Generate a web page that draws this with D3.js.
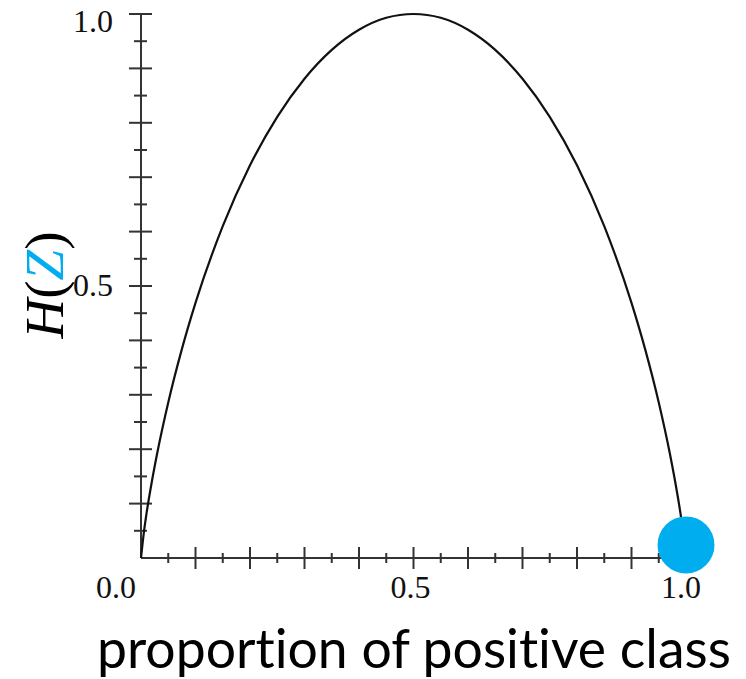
<!DOCTYPE html>
<html lang="en">
<head>
<meta charset="UTF-8" />
<title>entropy</title>
<style>
  html, body { margin: 0; padding: 0; background: #fff; }
  svg { display: block; }
  .tick-label { font-family: "Liberation Serif", "DejaVu Serif", serif; font-size: 32px; fill: #111; }
  .y-title { font-family: "Liberation Serif", serif; font-size: 55px; }
  .x-title { font-family: Lato, "Open Sans", sans-serif; font-size: 53.5px; fill: #000; font-variant-ligatures: none; }
</style>
</head>
<body>
<div id="chart"></div>
<script src="https://d3js.org/d3.v7.min.js"></script>
<script>
  // entropy curve
  const pValues = [0, 0.005, 0.01, 0.02, 0.03, 0.05, 0.075, 0.1, 0.15, 0.2, 0.25, 0.3, 0.35, 0.4, 0.45, 0.5,
                   0.55, 0.6, 0.65, 0.7, 0.75, 0.8, 0.85, 0.9, 0.925, 0.95, 0.97, 0.98, 0.99, 0.995, 1];
  const hValues = [0, 0.045, 0.081, 0.141, 0.194, 0.286, 0.384, 0.469, 0.610, 0.722, 0.811, 0.881, 0.934, 0.971, 0.993, 1.0,
                   0.993, 0.971, 0.934, 0.881, 0.811, 0.722, 0.610, 0.469, 0.384, 0.286, 0.194, 0.141, 0.081, 0.045, 0];

  const majorTicks = [0.1, 0.2, 0.3, 0.4, 0.5, 0.6, 0.7, 0.8, 0.9, 1.0];
  const minorTicks = [0.05, 0.15, 0.25, 0.35, 0.45, 0.55, 0.65, 0.75, 0.85, 0.95];
  const tickLabels = ['0.0', '0.5', '1.0'];
  const tickLabelValues = [0, 0.5, 1.0];

  const marker = { p: 1.0, h: 0.024 };

  const W = 746, H = 679;
  const x = d3.scaleLinear().domain([0, 1]).range([141, 686]);
  const y = d3.scaleLinear().domain([0, 1]).range([558, 14]);

  const svg = d3.select('#chart').append('svg').attr('width', W).attr('height', H);

  const axisColor = '#333';

  // y axis
  svg.append('line').attr('x1', x(0)).attr('x2', x(0)).attr('y1', y(0)).attr('y2', y(1))
     .attr('stroke', axisColor).attr('stroke-width', 2);
  svg.selectAll('.ymaj').data(majorTicks).join('line')
     .attr('x1', x(0) - 12).attr('x2', x(0) + 11)
     .attr('y1', d => y(d)).attr('y2', d => y(d))
     .attr('stroke', axisColor).attr('stroke-width', 2);
  svg.selectAll('.ymin').data(minorTicks).join('line')
     .attr('x1', x(0) - 7).attr('x2', x(0) + 6)
     .attr('y1', d => y(d)).attr('y2', d => y(d))
     .attr('stroke', axisColor).attr('stroke-width', 2);

  // x axis
  svg.append('line').attr('x1', x(0)).attr('x2', x(1)).attr('y1', y(0)).attr('y2', y(0))
     .attr('stroke', axisColor).attr('stroke-width', 2);
  svg.selectAll('.xmaj').data(majorTicks).join('line')
     .attr('x1', d => x(d)).attr('x2', d => x(d))
     .attr('y1', y(0) - 11).attr('y2', y(0) + 11)
     .attr('stroke', axisColor).attr('stroke-width', 2);
  svg.selectAll('.xmin').data(minorTicks).join('line')
     .attr('x1', d => x(d)).attr('x2', d => x(d))
     .attr('y1', y(0) - 5).attr('y2', y(0) + 5)
     .attr('stroke', axisColor).attr('stroke-width', 2);

  // tick labels
  const xShift = [-25, -3, -5];
  svg.selectAll('.xl').data(tickLabelValues).join('text')
     .attr('class', 'tick-label')
     .attr('x', (d, i) => x(d) + xShift[i]).attr('y', 598)
     .attr('text-anchor', 'middle')
     .text((d, i) => tickLabels[i]);
  const yShift = [0, 10, 18];
  svg.selectAll('.yl').data(tickLabelValues.slice(1)).join('text')
     .attr('class', 'tick-label')
     .attr('x', 113).attr('y', (d, i) => y(d) + yShift[i + 1])
     .attr('text-anchor', 'end')
     .text((d, i) => tickLabels[i + 1]);

  // curve
  const pts = pValues.map((p, i) => [p, hValues[i]]);
  svg.append('path').datum(pts)
     .attr('fill', 'none').attr('stroke', '#111').attr('stroke-width', 2.2)
     .attr('d', d3.line().x(d => x(d[0])).y(d => y(d[1])).curve(d3.curveMonotoneX));

  // marker
  svg.append('circle').attr('cx', x(marker.p)).attr('cy', y(marker.h)).attr('r', 28.5)
     .attr('fill', '#00AEEF');

  // y title
  const yt = svg.append('text').attr('class', 'y-title')
     .attr('transform', 'translate(63,285) rotate(-90)')
     .attr('text-anchor', 'middle');
  yt.append('tspan').attr('font-style', 'italic').attr('fill', '#000').text('H');
  yt.append('tspan').attr('fill', '#000').text('(');
  yt.append('tspan').attr('font-style', 'italic').attr('fill', '#00AEEF').text('Z');
  yt.append('tspan').attr('fill', '#000').text(')');

  // x title
  svg.append('text').attr('class', 'x-title')
     .attr('x', 97).attr('y', 668)
     .text('proportion of positive class');
</script>
</body>
</html>
